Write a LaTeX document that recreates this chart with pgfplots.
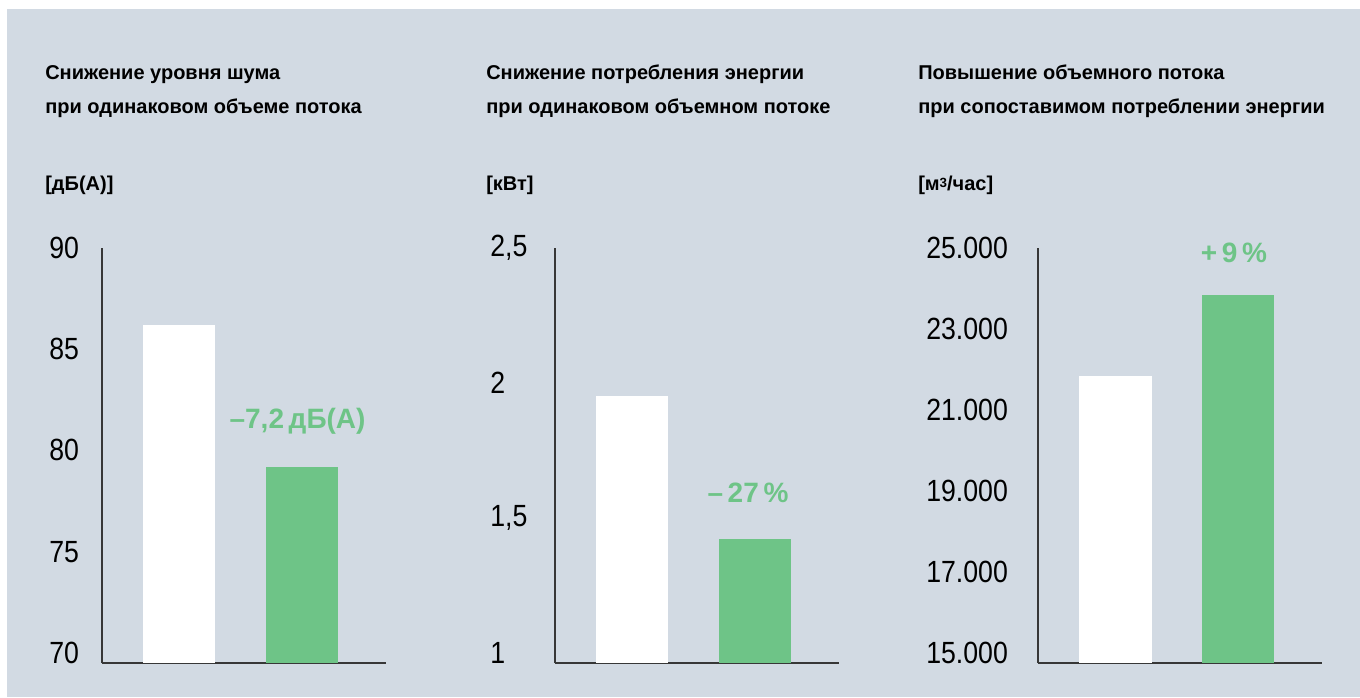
\documentclass[border=0pt]{standalone}
\usepackage{fontspec}
\setmainfont{Liberation Sans}
\newfontfamily\tickfont[FakeStretch=0.87]{Liberation Sans}
\usepackage{pgfplots}
\pgfplotsset{compat=1.18}
\definecolor{bg}{RGB}{210,218,227}
\definecolor{grn}{RGB}{110,196,135}
\definecolor{axgray}{RGB}{55,55,55}
\pgfplotsset{
  mybar/.style={
    width=213pt, height=311.25pt, scale only axis, anchor=south west,
    xmin=0.37, xmax=2.679,
    axis x line*=bottom, axis y line*=left,
    axis line style={-, line width=0.9pt, color=axgray},
    xtick=\empty, major tick length=0pt,
    scaled y ticks=false,
    yticklabel style={anchor=west, inner sep=0pt, font=\tickfont\fontsize{23}{23}\selectfont},
    clip mode=individual,
  },
  wbar/.style={ybar, bar width=54pt, bar shift=0pt, fill=white, draw=none},
  gbar/.style={ybar, bar width=54pt, bar shift=0pt, fill=grn, draw=none},
}
\newcommand{\ttl}{\fontsize{15}{15}\selectfont\bfseries}
\newcommand{\ann}{\fontsize{21}{21}\selectfont\bfseries\color{grn}}
\begin{document}
\begin{tikzpicture}
\fill[white] (0,0) rectangle (1020pt,522.75pt);
\fill[bg] (5.5pt,0) rectangle (1020pt,516pt);
\begin{scope}[x=0.75pt,y=-0.75pt,yshift=522.75pt]
  \node[anchor=base west, inner sep=0] at (45,80) {\ttl Снижение уровня шума};
  \node[anchor=base west, inner sep=0] at (45,114) {\ttl при одинаковом объеме потока};
  \node[anchor=base west, inner sep=0] at (45,191) {\ttl [дБ(А)]};
  \node[anchor=base west, inner sep=0] at (486,80) {\ttl Снижение потребления энергии};
  \node[anchor=base west, inner sep=0] at (486,114) {\ttl при одинаковом объемном потоке};
  \node[anchor=base west, inner sep=0] at (486,191) {\ttl [кВт]};
  \node[anchor=base west, inner sep=0] at (918,80) {\ttl Повышение объемного потока};
  \node[anchor=base west, inner sep=0] at (918,114) {\ttl при сопоставимом потреблении энергии};
  \node[anchor=base west, inner sep=0] at (918,191) {\ttl [м{\fontsize{10}{10}\selectfont\raisebox{0.55ex}{3}}/час]};
\end{scope}
% chart 1
\begin{axis}[mybar, at={(76.5pt,25.5pt)},
  ymin=69.5, ymax=90, ytick={70,75,80,85,90},
  yticklabels={70,75,80,85,90},
  yticklabel style={xshift=-39.75pt}]
  \addplot[wbar] coordinates {(1,86.2)};
  \addplot[gbar] coordinates {(2,79.2)};
  \node[inner sep=0] at (axis cs:1.96,81.42) {\ann –7,2\,дБ(A)};
\end{axis}
% chart 2
\begin{axis}[mybar, at={(416.25pt,25.5pt)},
  ymin=0.963, ymax=2.5, ytick={1,1.5,2,2.5},
  yticklabels={1,{1,5},2,{2,5}},
  yticklabel style={xshift=-48.75pt}]
  \addplot[wbar] coordinates {(1,1.953)};
  \addplot[gbar] coordinates {(2,1.423)};
  \node[inner sep=0] at (axis cs:1.939,1.593) {\ann –\,27\,\%};
\end{axis}
% chart 3
\begin{axis}[mybar, at={(778.5pt,25.5pt)},
  ymin=14740, ymax=25000, ytick={15000,17000,19000,21000,23000,25000},
  yticklabels={15.000,17.000,19.000,21.000,23.000,25.000},
  yticklabel style={xshift=-84pt}]
  \addplot[wbar] coordinates {(1,21844)};
  \addplot[gbar] coordinates {(2,23849)};
  \node[inner sep=0] at (axis cs:1.963,24889) {\ann +\,9\,\%};
\end{axis}
\pgfresetboundingbox
\useasboundingbox (0,0) rectangle (1020pt,522.75pt);
\end{tikzpicture}
\end{document}
